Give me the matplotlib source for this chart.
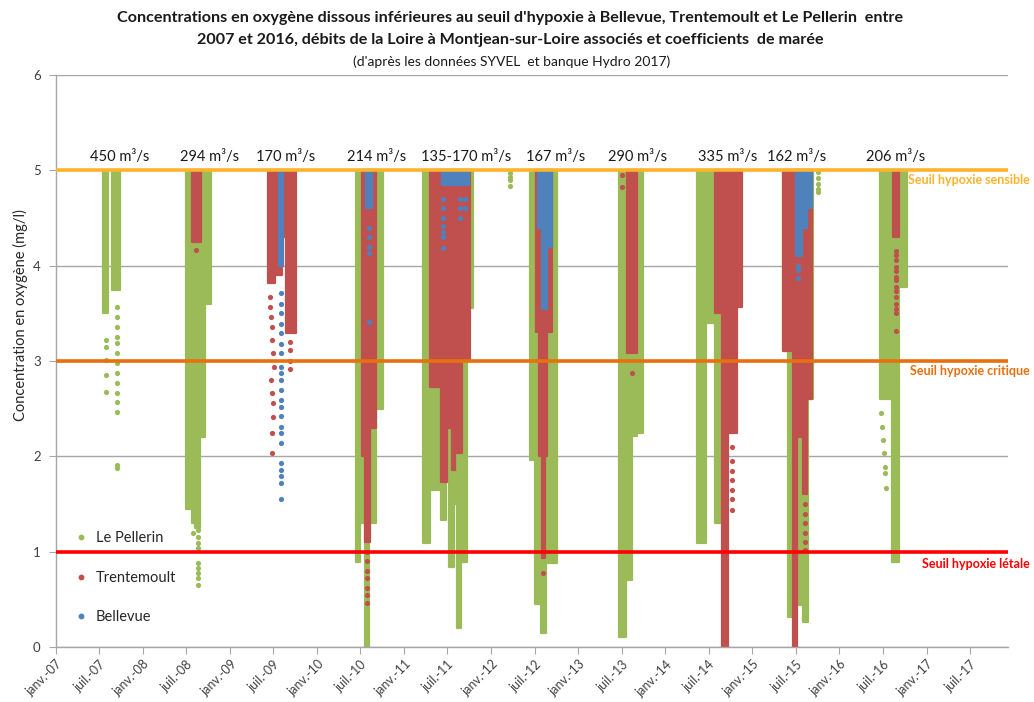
import pandas as pd
import matplotlib
matplotlib.use("Agg")
import matplotlib.pyplot as plt
from matplotlib.lines import Line2D

plt.rcParams['font.family'] = ['Lato', 'DejaVu Sans']

# ---------------------------------------------------------------------------
# Dissolved-oxygen readings below 5 mg/l, per station.
# Dense periods are stored as a lower envelope: from each date onward the
# readings span from the given low value up to the 5 mg/l threshold.
# None separates the measurement periods.
# ---------------------------------------------------------------------------
TOP = 5.0

pellerin_dates = [
    "2007-07-18", "2007-08-07", None,
    "2007-08-25", "2007-09-27", None,
    "2008-07-01", "2008-07-23", "2008-08-06", "2008-08-27", "2008-09-17", "2008-10-11", None,
    "2010-06-11", "2010-07-01", "2010-07-19", "2010-08-06", "2010-09-06", "2010-10-04", None,
    "2011-03-22", "2011-04-19", "2011-06-03", "2011-06-25", "2011-07-09", "2011-07-29",
    "2011-08-09", "2011-08-26", "2011-09-22", "2011-10-18", None,
    "2012-06-11", "2012-07-02", "2012-07-26", "2012-08-18", "2012-10-02", None,
    "2013-06-21", "2013-07-19", "2013-08-12", "2013-09-02", "2013-09-27", None,
    "2014-05-12", "2014-06-20", "2014-07-28", "2014-08-25", None,
    "2015-05-07", "2015-05-31", "2015-06-21", "2015-07-05", "2015-07-26", "2015-08-02",
    "2015-08-23", "2015-09-13", None,
    "2016-06-19", "2016-08-07", "2016-09-08", "2016-10-09",
]
pellerin_low = [
    3.50, 3.50, None,
    3.75, 3.75, None,
    1.45, 1.30, 1.25, 2.20, 3.60, 3.60, None,
    0.89, 1.30, 0.00, 1.30, 2.50, 2.50, None,
    1.09, 1.65, 1.33, 2.00, 0.84, 1.50, 0.20, 0.89, 3.56, 3.56, None,
    1.96, 0.45, 0.15, 0.88, 0.88, None,
    0.10, 0.70, 2.21, 2.24, 2.24, None,
    1.09, 3.40, 1.30, 1.30, None,
    3.10, 0.31, 0.80, 0.44, 1.50, 0.26, 2.60, 2.60, None,
    2.60, 0.89, 3.78, 3.78,
]

trentemoult_dates = [
    "2008-07-26", "2008-08-30", None,
    "2009-06-10", "2009-07-08", "2009-08-05", "2009-08-23", "2009-10-04", None,
    "2010-07-06", "2010-07-19", "2010-08-12", "2010-09-06", None,
    "2011-04-19", "2011-06-03", "2011-06-28", "2011-07-19", "2011-08-02", "2011-08-30", "2011-10-04", None,
    "2012-07-07", "2012-07-20", "2012-07-30", "2012-08-13", "2012-08-23", "2012-09-10", None,
    "2013-07-25", "2013-09-02", None,
    "2014-07-28", "2014-08-25", "2014-09-22", "2014-10-27", "2014-11-16", None,
    "2015-05-10", "2015-06-18", "2015-07-05", "2015-07-30", "2015-08-19", "2015-09-06", None,
    "2016-08-13", "2016-09-08",
]
trentemoult_low = [
    4.25, 4.25, None,
    3.82, 3.90, 4.30, 3.29, 3.29, None,
    2.00, 1.10, 2.30, 2.30, None,
    2.73, 1.73, 2.30, 1.86, 2.03, 3.00, 3.00, None,
    3.30, 2.00, 0.93, 2.00, 3.30, 3.30, None,
    3.08, 3.08, None,
    3.50, 0.00, 2.24, 3.57, 3.57, None,
    3.10, 0.00, 2.20, 1.60, 2.60, 2.60, None,
    4.30, 4.30,
]

bellevue_dates = [
    "2009-07-24", "2009-08-10", None,
    "2010-07-24", "2010-08-19", None,
    "2011-06-10", "2011-10-01", None,
    "2012-07-16", "2012-07-30", "2012-08-20", "2012-09-10", None,
    "2015-07-02", "2015-07-26", "2015-08-16", "2015-09-06",
]
bellevue_low = [
    4.00, 4.00, None,
    4.60, 4.60, None,
    4.85, 4.85, None,
    4.40, 3.55, 4.20, 4.20, None,
    4.10, 4.40, 4.60, 4.60,
]

# Isolated readings (sparse periods)
pellerin_pt_dates = (
    ["2007-07-28"] * 5 + ["2007-09-12"] * 14 + ["2008-08-20"] * 9 + ["2008-07-27"]
    + ["2012-03-20"] * 4 + ["2015-10-03"] * 5
    + ["2016-06-25", "2016-06-28", "2016-07-02", "2016-07-05", "2016-07-08", "2016-07-11", "2016-07-14"]
)
pellerin_pt_values = [
    3.22, 3.15, 3.01, 2.85, 2.67,
    3.57, 3.46, 3.36, 3.25, 3.19, 3.08, 2.98, 2.87, 2.77, 2.66, 2.57, 2.46, 1.91, 1.88,
    1.23, 1.15, 1.09, 1.04, 0.88, 0.83, 0.78, 0.72, 0.65, 1.20,
    4.97, 4.93, 4.90, 4.84,
    4.98, 4.92, 4.86, 4.80, 4.77,
    2.45, 2.31, 2.17, 2.03, 1.89, 1.82, 1.67,
]

trentemoult_pt_dates = (
    ["2008-08-10"]
    + ["2009-06-15", "2009-06-18", "2009-06-21", "2009-06-24", "2009-06-27", "2009-06-30", "2009-07-03",
       "2009-06-20", "2009-06-25", "2009-06-28", "2009-07-01", "2009-06-26", "2009-06-26"]
    + ["2009-09-10"] * 4 + ["2010-07-29"] * 7 + ["2012-08-05"]
    + ["2013-08-14", "2013-07-04", "2013-07-04"] + ["2014-10-05"] * 7
    + ["2015-08-10"] * 6 + ["2016-08-25"] * 14
)
trentemoult_pt_values = [
    4.16,
    3.67, 3.57, 3.46, 3.36, 3.22, 3.08, 2.94, 2.80, 2.66, 2.56, 2.41, 2.24, 2.03,
    3.20, 3.12, 3.00, 2.92,
    1.00, 0.90, 0.80, 0.72, 0.62, 0.55, 0.46,
    0.78,
    2.87, 4.95, 4.82,
    2.10, 1.95, 1.85, 1.75, 1.65, 1.55, 1.44,
    1.50, 1.40, 1.30, 1.20, 1.10, 1.02,
    4.15, 4.11, 4.06, 3.99, 3.94, 3.88, 3.85, 3.78, 3.73, 3.67, 3.60, 3.55, 3.50, 3.31,
]

bellevue_pt_dates = (
    ["2009-08-02"] * 22 + ["2010-08-05"] * 5
    + ["2011-06-12"] * 7 + ["2011-08-23"] * 3 + ["2011-09-13"] * 2 + ["2015-07-10"] * 3
)
bellevue_pt_values = [
    3.71, 3.60, 3.50, 3.39, 3.29, 3.18, 3.08, 2.94, 2.87, 2.80, 2.70, 2.59, 2.52, 2.42,
    2.31, 2.24, 2.14, 1.93, 1.86, 1.79, 1.72, 1.55,
    4.40, 4.30, 4.20, 4.13, 3.41,
    4.70, 4.60, 4.50, 4.42, 4.35, 4.30, 4.19,
    4.70, 4.60, 4.50,
    4.70, 4.60,
    4.00, 3.95, 3.87,
]

# Loire discharge at Montjean-sur-Loire for each season
flow_dates = ["2007-09-26", "2008-10-07", "2009-08-23", "2010-09-09", "2011-09-17",
              "2012-09-29", "2013-09-07", "2014-09-20", "2015-07-06", "2016-08-25"]
flow_labels = ["450 m³/s", "294 m³/s", "170 m³/s", "214 m³/s", "135-170 m³/s",
               "167 m³/s", "290 m³/s", "335 m³/s", "162 m³/s", "206 m³/s"]

# Hypoxia thresholds (mg/l)
threshold_values = [5, 3, 1]
threshold_names = ["Seuil hypoxie sensible", "Seuil hypoxie critique", "Seuil hypoxie létale"]
threshold_colors = ["#FDB42B", "#E8700E", "#FF0000"]

series_names = ["Le Pellerin", "Trentemoult", "Bellevue"]
series_colors = ["#9BBB59", "#C0504D", "#4F81BD"]


def seasons(dates, lows):
    runs, cur_d, cur_v = [], [], []
    for d, v in zip(dates, lows):
        if d is None:
            runs.append((cur_d, cur_v))
            cur_d, cur_v = [], []
        else:
            cur_d.append(pd.Timestamp(d))
            cur_v.append(v)
    if cur_d:
        runs.append((cur_d, cur_v))
    return runs


W, H = 1034, 702
fig = plt.figure(figsize=(W / 100, H / 100), dpi=100)
ax = fig.add_axes([56 / W, 1 - 647 / H, (1008 - 56) / W, (647 - 75) / H])

grid_col = "#A6A6A6"
ax.set_ylim(0, 6)
ax.set_yticks(range(7))
ax.set_xlim(pd.Timestamp("2007-01-01"), pd.Timestamp("2017-12-08"))
ax.grid(axis="y", color=grid_col, lw=1.0)
ax.set_axisbelow(True)
for side in ("top", "right"):
    ax.spines[side].set_visible(False)
for side in ("left", "bottom"):
    ax.spines[side].set_color(grid_col)
    ax.spines[side].set_linewidth(1.0)

envelopes = [(pellerin_dates, pellerin_low), (trentemoult_dates, trentemoult_low),
             (bellevue_dates, bellevue_low)]
points = [(pellerin_pt_dates, pellerin_pt_values), (trentemoult_pt_dates, trentemoult_pt_values),
          (bellevue_pt_dates, bellevue_pt_values)]

handles = []
for (edates, elows), (pdates, pvals), name, col in zip(envelopes, points, series_names, series_colors):
    for d, v in seasons(edates, elows):
        ax.fill_between(d, v, TOP, step="post", color=col, edgecolor=col,
                        linewidth=1.6, joinstyle="round", zorder=2)
    ax.scatter(pd.to_datetime(pdates), pvals, s=14, color=col, linewidths=0, zorder=2)
    handles.append(Line2D([], [], linestyle="none", marker="o", markersize=3.2,
                          markerfacecolor=col, markeredgecolor=col, label=name))

for val, col in zip(threshold_values, threshold_colors):
    ax.axhline(val, color=col, lw=2.6, zorder=3)

for d, lab in zip(flow_dates, flow_labels):
    ax.text(pd.Timestamp(d), 5.14, lab, ha="center", va="center", fontsize=10.5, color="#1A1A1A")

# axes ticks
ticks, labels = [], []
for yr in range(2007, 2018):
    for m, mname in ((1, "janv."), (7, "juil.")):
        ticks.append(pd.Timestamp(yr, m, 1))
        labels.append(f"{mname}-{yr % 100:02d}")
ax.set_xticks(ticks)
ax.set_xticklabels(labels, rotation=45, ha="right", rotation_mode="anchor",
                   fontsize=9, color="#404040")
ax.tick_params(axis="x", length=5, color=grid_col, pad=3)
ax.tick_params(axis="y", length=5, color=grid_col, labelsize=9.5, labelcolor="#404040", pad=6)

fig.text(20 / W, 1 - 315 / H, "Concentration en oxygène (mg/l)", rotation=90,
         ha="center", va="center", fontsize=10.5, color="#262626")

fig.text(510 / W, 1 - 18 / H,
         "Concentrations en oxygène dissous inférieures au seuil d'hypoxie à Bellevue, "
         "Trentemoult et Le Pellerin  entre",
         ha="center", va="center", fontsize=11.6, fontweight="bold", color="#1A1A1A")
fig.text(510 / W, 1 - 40 / H,
         "2007 et 2016, débits de la Loire à Montjean-sur-Loire associés et coefficients  de marée",
         ha="center", va="center", fontsize=11.6, fontweight="bold", color="#1A1A1A")
fig.text(512 / W, 1 - 62 / H, "(d'après les données SYVEL  et banque Hydro 2017)",
         ha="center", va="center", fontsize=10, color="#1A1A1A")

for name, col, ypx in zip(threshold_names, threshold_colors, (180, 371, 564)):
    fig.text(1030 / W, 1 - ypx / H, name, ha="right", va="center",
             fontsize=9, fontweight="bold", color=col)

leg = ax.legend(handles=handles, loc="upper left", bbox_to_anchor=(68 / W, 1 - 524 / H),
                bbox_transform=fig.transFigure, frameon=False, fontsize=10.5,
                labelspacing=1.75, handlelength=0.8, handletextpad=0.6, borderpad=0)
for t in leg.get_texts():
    t.set_color("#262626")

fig.savefig("out.png", dpi=100)
